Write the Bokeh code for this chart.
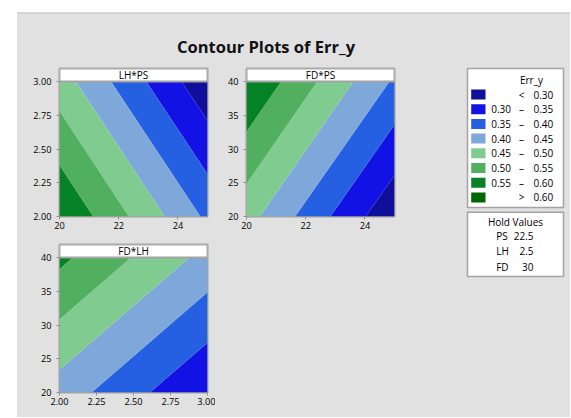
import numpy as np
from bokeh.plotting import figure
from bokeh.layouts import row, column
from bokeh.models import Range1d, FixedTicker, PrintfTickFormatter, BoxAnnotation, Label, Span
from bokeh.core.properties import value
from bokeh.embed import file_html
from bokeh.resources import INLINE

# ---------------- data ----------------
ps_vals = [20.0, 25.0]          # PS axis range
lh_vals = [2.0, 3.0]            # LH axis range
fd_vals = [20.0, 40.0]          # FD axis range

# Err_y at the panel corners (rows: y variable low->high, cols: x variable low->high)
err_lh_ps = [[0.597, 0.390],    # LH = 2 ; PS = 20, 25   (FD held at 30)
             [0.473, 0.263]]    # LH = 3
err_fd_ps = [[0.469, 0.259],    # FD = 20 ; PS = 20, 25  (LH held at 2.5)
             [0.598, 0.393]]    # FD = 40
err_fd_lh = [[0.4275, 0.3005],  # FD = 20 ; LH = 2, 3    (PS held at 22.5)
             [0.5615, 0.4345]]  # FD = 40

levels = [0.0, 0.30, 0.35, 0.40, 0.45, 0.50, 0.55, 0.60, 1.0]
level_colors = ["#0f0f9c", "#1212e4", "#2660e2", "#7ea7da",
                "#80cc90", "#50b060", "#058226", "#006600"]
legend_low = ["", "0.30", "0.35", "0.40", "0.45", "0.50", "0.55", ""]
legend_sep = ["<", "\u2013", "\u2013", "\u2013", "\u2013", "\u2013", "\u2013", ">"]
legend_high = ["0.30", "0.35", "0.40", "0.45", "0.50", "0.55", "0.60", "0.60"]

hold_names = ["PS", "LH", "FD"]
hold_values = ["22.5", "2.5", "30"]

ps_ticks = [20, 22, 24]
lh_ticks = [2.0, 2.25, 2.5, 2.75, 3.0]
fd_ticks = [20, 25, 30, 35, 40]

# ---------------- style ----------------
GRAY = "#e1e1e1"
EDGE = "#a3a3a3"
FONT = "Open Sans"
TXT = "#000000"
FW = 148          # frame width (px)
DATA_H = 135      # data area height (px)
STRIP_H = 13      # title strip height (px)


def make_panel(xs, ys, z, strip_text, xticks, yticks, xfmt, yfmt, mbl, mbr, mbt, mbb):
    y0, y1 = ys[0], ys[-1]
    ext = (y1 - y0) * STRIP_H / DATA_H
    p = figure(frame_width=FW, frame_height=DATA_H + STRIP_H,
               x_range=Range1d(xs[0], xs[-1]), y_range=Range1d(y0, y1 + ext),
               output_backend="svg", toolbar_location=None,
               min_border_left=mbl, min_border_right=mbr,
               min_border_top=mbt, min_border_bottom=mbb,
               background_fill_color="white", border_fill_color=GRAY,
               outline_line_color=EDGE, outline_line_width=2)
    p.contour(x=xs, y=ys, z=np.array(z), levels=levels,
              fill_color=level_colors, line_color=None)
    p.add_layout(BoxAnnotation(bottom=y1, fill_color="white", fill_alpha=1.0,
                               line_color=EDGE, line_alpha=1.0, line_width=2))
    p.add_layout(Label(x=(xs[0] + xs[-1]) / 2, y=y1 + ext / 2, text=strip_text,
                       text_align="center", text_baseline="middle",
                       text_font=FONT, text_font_size="10px", text_color=TXT))
    p.xaxis.ticker = FixedTicker(ticks=xticks)
    p.yaxis.ticker = FixedTicker(ticks=yticks)
    p.xaxis.formatter = PrintfTickFormatter(format=xfmt)
    p.yaxis.formatter = PrintfTickFormatter(format=yfmt)
    p.yaxis.bounds = (y0, y1)
    for ax in p.axis:
        ax.axis_line_color = None
        ax.major_tick_line_color = "#909090"
        ax.major_tick_line_width = 1
        ax.major_tick_out = 3
        ax.major_tick_in = 0
        ax.minor_tick_line_color = None
        ax.major_label_text_font = FONT
        ax.major_label_text_font_size = "9.2px"
        ax.major_label_text_color = TXT
    p.xaxis.major_label_standoff = 2
    p.yaxis.major_label_standoff = 5
    p.grid.visible = False
    return p


def blank(w, h, fill=GRAY):
    p = figure(frame_width=w, frame_height=h, x_range=Range1d(0, w),
               y_range=Range1d(h, 0),
               x_axis_type=None, y_axis_type=None, min_border=0,
               output_backend="svg", toolbar_location=None,
               background_fill_color=fill, border_fill_color=fill,
               outline_line_color=None)
    p.grid.visible = False
    return p


# ---------------- title ----------------
tfig = blank(553, 48)
tfig.add_layout(Span(location=0.5, dimension="width", line_color="#c4c4c4", line_width=1))
tfig.text(x=[248.5], y=[33.5], text=["Contour Plots of Err_y"], text_align="center",
          text_baseline="alphabetic", text_font=value(FONT), text_font_style="bold",
          text_font_size="16.5px", text_color="#111111")

# ---------------- panels ----------------
p1 = make_panel(ps_vals, lh_vals, err_lh_ps, "LH*PS", ps_ticks, lh_ticks, "%d", "%.2f", 42, 8, 8, 22)
p2 = make_panel(ps_vals, fd_vals, err_fd_ps, "FD*PS", ps_ticks, fd_ticks, "%d", "%d", 31, 10, 8, 22)
p3 = make_panel(lh_vals, fd_vals, err_fd_lh, "FD*LH", lh_ticks, fd_ticks, "%.2f", "%d", 42, 8, 6, 25)
filler = blank(189, 179)

# ---------------- legend ----------------
lg = blank(166, 357)
lg.quad(left=[63, 63], right=[159, 159], top=[8, 151.7], bottom=[147, 216],
        fill_color="white", line_color=EDGE, line_width=1.5)
n = len(level_colors)
ycen = [34 + 14.7 * i for i in range(n)]
lg.quad(left=[66.7] * n, right=[81] * n, top=[y - 5 for y in ycen], bottom=[y + 5 for y in ycen],
        fill_color=level_colors, line_color=None)
tk = dict(text_font=value(FONT), text_font_size="10px", text_color=TXT, text_baseline="middle")
lg.text(x=[127], y=[19], text=["Err_y"], text_align="center", **tk)
lg.text(x=[86.7] * n, y=ycen, text=legend_low, text_align="left", **tk)
lg.text(x=[117] * n, y=ycen, text=legend_sep, text_align="center", **tk)
lg.text(x=[148.7] * n, y=ycen, text=legend_high, text_align="right", **tk)
lg.text(x=[111], y=[161.7], text=["Hold Values"], text_align="center", **tk)
hy = [175, 190.7, 206]
lg.text(x=[91.7] * 3, y=hy, text=hold_names, text_align="left", **tk)
lg.text(x=[129] * 3, y=hy, text=hold_values, text_align="right", **tk)

content = column(tfig, row(column(row(p1, p2), row(p3, filler)), lg),
                 styles={"background-color": GRAY})
left_pad = blank(17, 417, fill="white")
top_pad = blank(553, 12, fill="white")
root = row(left_pad, column(top_pad, content))

open("out.html", "w").write(file_html(root, INLINE))
